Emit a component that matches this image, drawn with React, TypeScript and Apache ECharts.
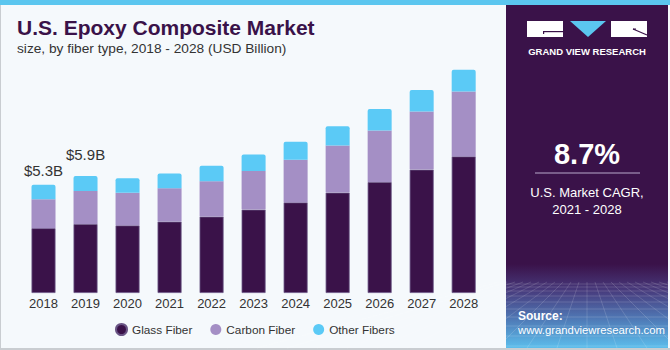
import React, { useEffect, useRef } from "react";
import * as echarts from "echarts";

const years = ["2018", "2019", "2020", "2021", "2022", "2023", "2024", "2025", "2026", "2027", "2028"];
const glassFiber = [3.24, 3.45, 3.38, 3.57, 3.82, 4.17, 4.53, 5.02, 5.55, 6.17, 6.83];
const carbonFiber = [1.45, 1.65, 1.63, 1.67, 1.77, 1.93, 2.13, 2.35, 2.57, 2.9, 3.25];
const otherFibers = [0.72, 0.75, 0.73, 0.73, 0.77, 0.83, 0.9, 0.97, 1.08, 1.08, 1.08];
const totalLabels = ["$5.3B", "$5.9B"];

const FONT = "'Liberation Sans', Arial, sans-serif";
const PURPLE = "#3a1249";

export default function App() {
  const ref = useRef<HTMLDivElement>(null);
  useEffect(() => {
    if (!ref.current) return;
    const chart = echarts.init(ref.current, null, { renderer: "svg" });

    const gridLines: any[] = [];
    const hs = [284, 287, 291, 296, 302, 309, 317, 326, 336, 346];
    hs.forEach((y) =>
      gridLines.push({
        type: "line",
        shape: { x1: 506, y1: y, x2: 668, y2: y },
        style: { stroke: "rgba(255,255,255,0.15)", lineWidth: 1 },
        silent: true,
      })
    );
    for (let i = -12; i <= 12; i++) {
      gridLines.push({
        type: "line",
        shape: { x1: 587 + i * 8, y1: 282, x2: 587 + i * 30, y2: 348 },
        style: { stroke: "rgba(255,255,255,0.14)", lineWidth: 1 },
        silent: true,
      });
    }

    chart.setOption({
      animation: false,
      backgroundColor: "#f5f9fc",
      grid: { left: 22.5, right: 185.3, top: 63, bottom: 57, containLabel: false },
      xAxis: {
        type: "category",
        data: years,
        axisLine: { show: false },
        axisTick: { show: false },
        axisLabel: { color: "#333", fontSize: 13, fontFamily: FONT, margin: 4 },
      },
      yAxis: { type: "value", min: 0, max: 11.5, show: false, splitLine: { show: false } },
      legend: {
        left: 110,
        top: 318,
        icon: "circle",
        itemWidth: 11,
        itemHeight: 11,
        itemGap: 18,
        textStyle: { color: "#333", fontSize: 11.8, fontFamily: FONT },
        data: ["Glass Fiber", "Carbon Fiber", "Other Fibers"],
      },
      series: [
        {
          name: "Glass Fiber",
          type: "bar",
          stack: "t",
          barWidth: 24,
          data: glassFiber,
          itemStyle: { color: PURPLE, borderColor: "#6a5585", borderWidth: 0.8 },
        },
        {
          name: "Carbon Fiber",
          type: "bar",
          stack: "t",
          data: carbonFiber,
          itemStyle: { color: "#a48fc5" },
        },
        {
          name: "Other Fibers",
          type: "bar",
          stack: "t",
          data: otherFibers.map((v, i) => {
            if (i < totalLabels.length) {
              return {
                value: v,
                label: {
                  show: true,
                  position: "top",
                  distance: i === 0 ? 7 : 14,
                  formatter: totalLabels[i],
                  color: "#333",
                  fontSize: 15,
                  fontFamily: FONT,
                },
              };
            }
            return v;
          }),
          itemStyle: { color: "#5bcaf6", borderRadius: [2, 2, 0, 0] },
        },
      ],
      graphic: [
        { type: "rect", shape: { x: 0, y: 0, width: 670, height: 5 }, style: { fill: "#5bc6ef" }, silent: true },
        { type: "rect", shape: { x: 0, y: 5, width: 1, height: 345 }, style: { fill: "#c9cdd1" }, silent: true },
        { type: "rect", shape: { x: 0, y: 348, width: 670, height: 2 }, style: { fill: "#c9cdd1" }, silent: true },
        {
          type: "text",
          left: 17,
          top: 17,
          style: { text: "U.S. Epoxy Composite Market", fill: PURPLE, font: `bold 21px ${FONT}` },
        },
        {
          type: "text",
          left: 17,
          top: 41,
          style: { text: "size, by fiber type, 2018 - 2028 (USD Billion)", fill: "#333", font: `13.7px ${FONT}` },
        },
        { type: "rect", shape: { x: 506, y: 5, width: 162, height: 343 }, style: { fill: PURPLE }, silent: true },
        {
          type: "rect",
          shape: { x: 506, y: 264, width: 162, height: 84 },
          style: {
            fill: new echarts.graphic.LinearGradient(0, 0, 0, 1, [
              { offset: 0, color: PURPLE },
              { offset: 0.3, color: "#47387a" },
              { offset: 0.65, color: "#4f78b5" },
              { offset: 1, color: "#5cbeec" },
            ]),
          },
          silent: true,
        },
        ...gridLines,
        { type: "rect", shape: { x: 527, y: 21, width: 36, height: 16 }, style: { fill: "#fff" }, silent: true },
        { type: "rect", shape: { x: 543, y: 31, width: 20, height: 1.2 }, style: { fill: PURPLE }, silent: true },
        { type: "rect", shape: { x: 543, y: 31, width: 1.2, height: 3 }, style: { fill: PURPLE }, silent: true },
        {
          type: "polygon",
          shape: { points: [[570, 21], [606, 21], [588, 37]] },
          style: { fill: "#5bc6ef" },
          silent: true,
        },
        { type: "rect", shape: { x: 611, y: 21, width: 36, height: 16 }, style: { fill: "#fff" }, silent: true },
        {
          type: "line",
          shape: { x1: 633, y1: 29, x2: 647, y2: 35 },
          style: { stroke: PURPLE, lineWidth: 1.2 },
          silent: true,
        },
        { type: "rect", shape: { x: 633, y: 28.5, width: 3, height: 1.2 }, style: { fill: PURPLE }, silent: true },
        {
          type: "text",
          x: 587,
          y: 51,
          style: {
            text: "GRAND VIEW RESEARCH",
            fill: "#fff",
            font: `bold 9.5px ${FONT}`,
            align: "center",
            verticalAlign: "middle",
          },
        },
        {
          type: "text",
          x: 587,
          y: 154,
          style: { text: "8.7%", fill: "#fff", font: `bold 29px ${FONT}`, align: "center", verticalAlign: "middle" },
        },
        {
          type: "line",
          shape: { x1: 535, y1: 173, x2: 640, y2: 173 },
          style: { stroke: "#b8a9cc", lineWidth: 1 },
          silent: true,
        },
        {
          type: "text",
          x: 587,
          y: 192,
          style: { text: "U.S. Market CAGR,", fill: "#fff", font: `13px ${FONT}`, align: "center", verticalAlign: "middle" },
        },
        {
          type: "text",
          x: 587,
          y: 209,
          style: { text: "2021 - 2028", fill: "#fff", font: `13px ${FONT}`, align: "center", verticalAlign: "middle" },
        },
        {
          type: "text",
          x: 518,
          y: 316,
          style: { text: "Source:", fill: "#fff", font: `bold 12px ${FONT}`, verticalAlign: "middle" },
        },
        {
          type: "text",
          x: 518,
          y: 330,
          style: { text: "www.grandviewresearch.com", fill: "#fff", font: `11.3px ${FONT}`, verticalAlign: "middle" },
        },
      ],
    });
    return () => chart.dispose();
  }, []);
  return <div ref={ref} style={{ position: "fixed", left: 0, top: 0, width: 670, height: 350 }} />;
}
